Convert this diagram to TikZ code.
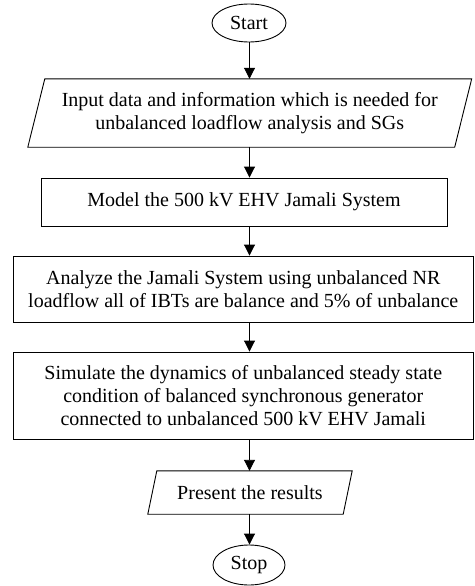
\documentclass[tikz,border=0pt]{standalone}
\usepackage{fontspec}
\setmainfont{Liberation Serif}
\usetikzlibrary{shapes.geometric,arrows.meta}
\begin{document}
\begin{tikzpicture}[x=1pt,y=-1pt,
  every node/.style={font=\fontsize{20}{23}\selectfont, align=center, inner sep=0pt},
  term/.style={ellipse, draw, line width=0.9pt},
  proc/.style={rectangle, draw, line width=0.9pt},
  io/.style={rectangle, draw=none},
  flow/.style={line width=0.9pt, -{Triangle[length=11pt,width=11pt]}},
  outline/.style={line width=0.9pt}]
\useasboundingbox (0,0) rectangle (474,586);
\node[term, minimum width=74pt, minimum height=38pt] (start) at (249,23) {Start};
\node[io, minimum width=426.5pt, minimum height=68pt] (in1) at (249.75,113)
  {Input data and information which is needed for\\unbalanced loadflow analysis and SGs};
\draw[outline] ([xshift=8.5pt]in1.north west) -- ([xshift=8.5pt]in1.north east)
  -- ([xshift=-8.5pt]in1.south east) -- ([xshift=-8.5pt]in1.south west) -- cycle;
\node[proc, minimum width=406pt, minimum height=48pt] (model) at (244,202)
  {Model the 500 kV EHV Jamali System};
\node[proc, minimum width=460.5pt, minimum height=66pt] (analyze) at (243.25,289)
  {Analyze the Jamali System using unbalanced NR\\loadflow all of IBTs are balance and 5\% of unbalance};
\node[proc, minimum width=460.5pt, minimum height=87pt] (sim) at (243.25,395.5)
  {Simulate the dynamics of unbalanced steady state\\condition of balanced synchronous generator\\connected to unbalanced 500 kV EHV Jamali};
\node[io, minimum width=195pt, minimum height=43pt] (present) at (250,492.5)
  {Present the results};
\draw[outline] ([xshift=4.5pt]present.north west) -- ([xshift=4.5pt]present.north east)
  -- ([xshift=-4.5pt]present.south east) -- ([xshift=-4.5pt]present.south west) -- cycle;
\node[term, minimum width=72pt, minimum height=40pt] (stop) at (249,565) {Stop};
\coordinate (ax) at (249.5,0);
\draw[flow] (ax|-start.south) -- (ax|-in1.north);
\draw[flow] (ax|-in1.south) -- (ax|-model.north);
\draw[flow] (ax|-model.south) -- (ax|-analyze.north);
\draw[flow] (ax|-analyze.south) -- (ax|-sim.north);
\draw[flow] (ax|-sim.south) -- (ax|-present.north);
\draw[flow] (ax|-present.south) -- (ax|-stop.north);
\end{tikzpicture}
\end{document}
